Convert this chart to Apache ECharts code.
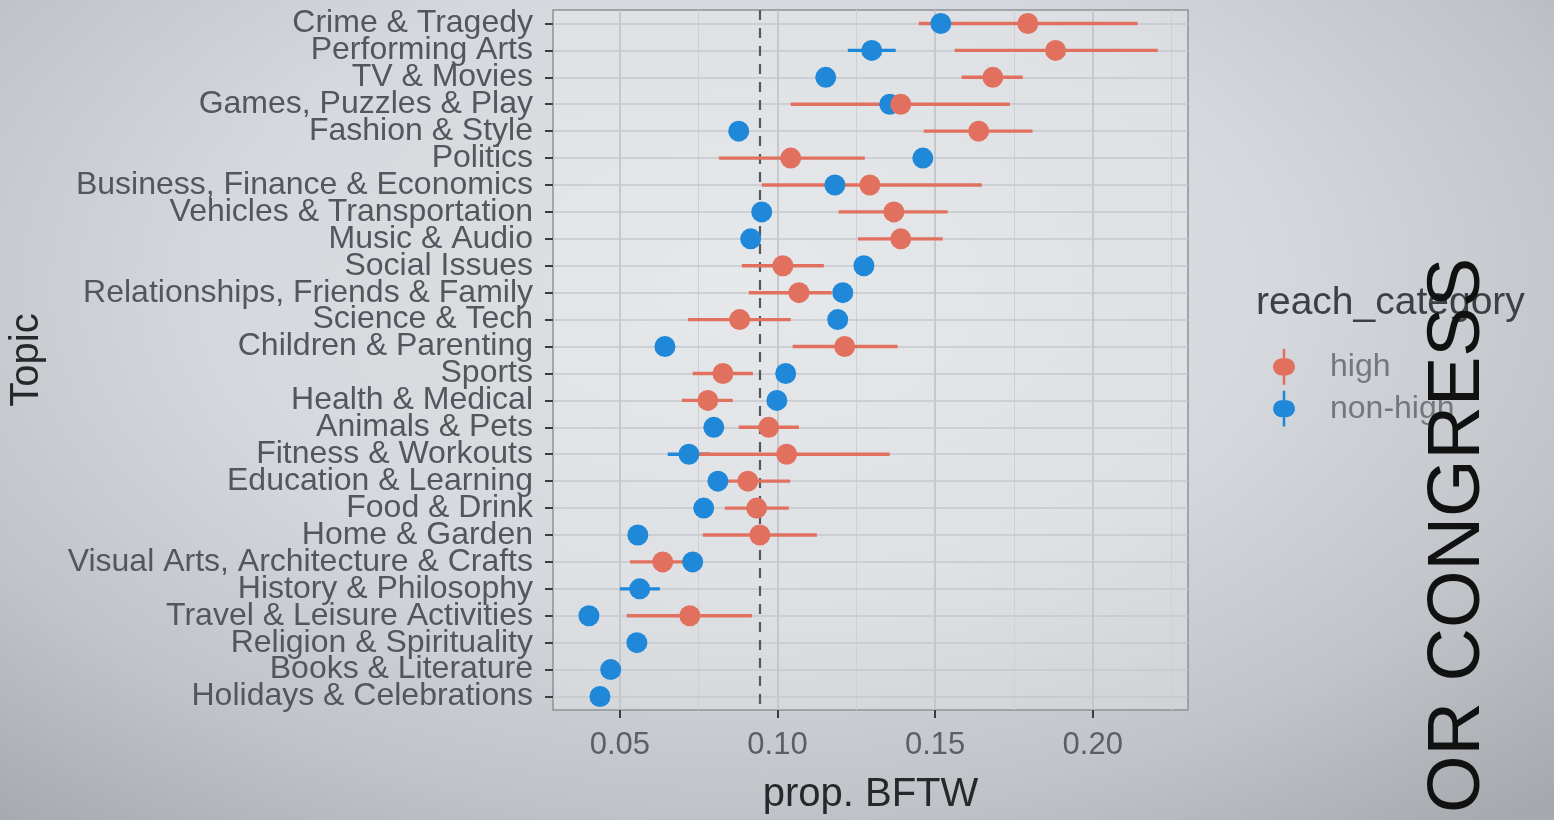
<!DOCTYPE html>
<html>
<head>
<meta charset="utf-8">
<script src="https://cdn.jsdelivr.net/npm/echarts@6/dist/echarts.min.js"></script>
<style>
html,body{margin:0;padding:0;}
#chart{width:1554px;height:820px;
background: radial-gradient(ellipse 75% 85% at 48% 35%, #dfe2e5 0%, #d5d8dc 45%, #c0c4c8 75%, #a6aaae 100%);}
</style>
</head>
<body>
<div id="chart"></div>
<script>
const categories = [
  'Crime & Tragedy','Performing Arts','TV & Movies','Games, Puzzles & Play','Fashion & Style',
  'Politics','Business, Finance & Economics','Vehicles & Transportation','Music & Audio','Social Issues',
  'Relationships, Friends & Family','Science & Tech','Children & Parenting','Sports','Health & Medical',
  'Animals & Pets','Fitness & Workouts','Education & Learning','Food & Drink','Home & Garden',
  'Visual Arts, Architecture & Crafts','History & Philosophy','Travel & Leisure Activities',
  'Religion & Spirituality','Books & Literature','Holidays & Celebrations'
];
// reach_category = high
const highMid = [0.1794,0.1882,0.1683,0.1391,0.1638,0.1042,0.1293,0.1369,0.1391,0.1017,
                 0.1068,0.0880,0.1213,0.0827,0.0779,0.0972,0.1029,0.0906,0.0934,0.0944,
                 0.0636,null,0.0722,null,null,null];
const highLo  = [0.1448,0.1562,0.1584,0.1042,0.1464,0.0814,0.0950,0.1194,0.1255,0.0887,
                 0.0909,0.0716,0.1048,0.0731,0.0697,0.0877,0.0750,0.0800,0.0833,0.0763,
                 0.0532,null,0.0522,null,null,null];
const highHi  = [0.2142,0.2206,0.1778,0.1737,0.1809,0.1277,0.1648,0.1540,0.1524,0.1147,
                 0.1172,0.1042,0.1381,0.0922,0.0858,0.1068,0.1356,0.1040,0.1036,0.1125,
                 0.0720,null,0.0919,null,null,null];
// reach_category = non-high
const nonMid = [0.1518,0.1299,0.1153,0.1356,0.0877,0.1461,0.1182,0.0950,0.0915,0.1274,
                0.1207,0.1191,0.0643,0.1026,0.0998,0.0798,0.0719,0.0811,0.0766,0.0557,
                0.0731,0.0563,0.0402,0.0554,0.0471,0.0437];
const nonLo  = [0.1490,0.1223,0.1125,0.1328,0.0850,0.1433,0.1154,0.0922,0.0887,0.1246,
                0.1179,0.1163,0.0615,0.0998,0.0970,0.0770,0.0652,0.0783,0.0738,0.0529,
                0.0703,0.0500,0.0374,0.0526,0.0443,0.0409];
const nonHi  = [0.1546,0.1375,0.1181,0.1384,0.0905,0.1489,0.1210,0.0978,0.0943,0.1302,
                0.1235,0.1219,0.0671,0.1054,0.1026,0.0826,0.0785,0.0839,0.0794,0.0585,
                0.0759,0.0627,0.0430,0.0582,0.0499,0.0465];
const xTicks = [0.05, 0.10, 0.15, 0.20];
const xMinor = [0.075, 0.125, 0.175, 0.225];
const refLine = 0.0945;

const RED = '#e2705f', BLUE = '#1f88d8';
const FONT = "'Liberation Sans', Arial, sans-serif";

function bars(mid, lo, hi){ const d=[]; mid.forEach((m,i)=>{ if(m!==null) d.push([lo[i],hi[i],i]); }); return d; }
function pts(mid){ const d=[]; mid.forEach((m,i)=>{ if(m!==null) d.push([m,i]); }); return d; }
function barSeries(name, data, color){
  return { name, type:'custom', data, encode:{x:[0,1], y:2}, z:6,
    renderItem(params, api){
      const a = api.coord([api.value(0), api.value(2)]);
      const b = api.coord([api.value(1), api.value(2)]);
      return {type:'line', shape:{x1:a[0],y1:a[1],x2:b[0],y2:b[1]}, style:{stroke:color, lineWidth:3.4}};
    }};
}
const iconPath = 'path://M8.5,0 L11.5,0 L11.5,11.1 A10,10 0 1 1 11.5,30.9 L11.5,42 L8.5,42 L8.5,30.9 A10,10 0 1 1 8.5,11.1 Z';

const chart = echarts.init(document.getElementById('chart'), null, {renderer:'canvas'});
chart.setOption({
  backgroundColor:'transparent',
  animation:false,
  title:{ text:'reach_category', left:1251, top:279,
    textStyle:{fontFamily:FONT, fontSize:39, fontWeight:'normal', color:'#3c4045'} },
  legend:{ orient:'vertical', left:1268, top:344, itemWidth:22, itemHeight:44, itemGap:6,
    textStyle:{fontFamily:FONT, fontSize:32, color:'#74787c', padding:[0,0,0,30]},
    data:[{name:'high', icon:iconPath, itemStyle:{color:RED}},
          {name:'non-high', icon:iconPath, itemStyle:{color:BLUE}}] },
  grid:{ left:553, top:10, width:635, height:701, show:true,
    backgroundColor:'rgba(255,255,255,0.22)', borderColor:'#8f9398', borderWidth:1.5, containLabel:false },
  xAxis:{ type:'value', min:0.0288, max:0.2302,
    name:'prop. BFTW', nameLocation:'middle', nameGap:65,
    nameTextStyle:{fontFamily:FONT, fontSize:40, color:'#26292c'},
    axisLine:{show:false},
    axisTick:{show:true, customValues:xTicks, length:8, lineStyle:{color:'#3a3d40', width:2}},
    axisLabel:{customValues:xTicks, margin:20, fontFamily:FONT, fontSize:31, color:'#5b5f63',
      formatter:v=>v.toFixed(2)},
    splitLine:{show:false} },
  yAxis:{ type:'category', data:categories, inverse:true,
    name:'Topic', nameLocation:'middle', nameGap:506, nameRotate:90,
    nameTextStyle:{fontFamily:FONT, fontSize:40, color:'#26292c'},
    axisLine:{show:false},
    axisTick:{show:true, alignWithLabel:true, interval:0, length:8, lineStyle:{color:'#3a3d40', width:2}},
    axisLabel:{interval:0, margin:20, verticalAlign:'middle', lineHeight:32, padding:[7,0,0,0],
      fontFamily:FONT, fontSize:32, color:'#53575c'},
    splitLine:{show:false} },
  series:[
    { name:'grid', type:'scatter', data:[], silent:true, z:1,
      markLine:{ silent:true, z:1, precision:6, symbol:'none', label:{show:false}, animation:false,
        data:[
          ...xMinor.map(v=>({xAxis:v, lineStyle:{color:'#cdd1d5', width:1, type:'solid'}})),
          ...xTicks.map(v=>({xAxis:v, lineStyle:{color:'#bec2c7', width:1.6, type:'solid'}})),
          ...categories.map((c,i)=>({yAxis:i, lineStyle:{color:'#c4c8cd', width:1.6, type:'solid'}}))
        ]}},
    { name:'ref', type:'scatter', data:[], silent:true, z:2,
      markLine:{ silent:true, z:2, precision:6, symbol:'none', label:{show:false}, animation:false,
        data:[{xAxis:refLine, lineStyle:{color:'#55585c', width:2.2, type:[10,8]}}]}},
    barSeries('non-high', bars(nonMid,nonLo,nonHi), BLUE),
    barSeries('high', bars(highMid,highLo,highHi), RED),
    { name:'non-high', type:'scatter', data:pts(nonMid), symbolSize:21, z:8,
      itemStyle:{color:BLUE, opacity:1} },
    { name:'high', type:'scatter', data:pts(highMid), symbolSize:21, z:9,
      itemStyle:{color:RED, opacity:1} }
  ],
  graphic:[
    { type:'text', x:1459, y:258, rotation:Math.PI/2, z:100, silent:true,
      style:{ text:'OR CONGRESS', fontFamily:FONT, fontSize:74, fill:'#111111',
        align:'right', verticalAlign:'middle' } }
  ]
});
</script>
</body>
</html>
